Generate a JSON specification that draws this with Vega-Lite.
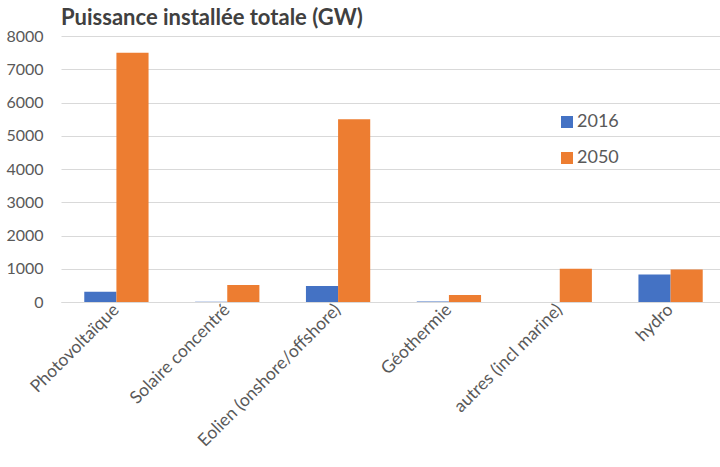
{
  "$schema": "https://vega.github.io/schema/vega-lite/v6.json",
  "autosize": {"type": "none"},
  "padding": {"left": 61, "top": 36, "right": 0, "bottom": 165},
  "width": 665,
  "height": 266,
  "background": "white",
  "title": {
    "text": "Puissance installée totale (GW)",
    "anchor": "start",
    "frame": "group",
    "font": "Lato",
    "fontSize": 22,
    "fontWeight": "bold",
    "color": "#404040",
    "offset": 3,
    "dy": 5
  },
  "data": {
    "values": [
      {"categorie": "Photovoltaïque", "annee": "2016", "valeur": 310},
      {"categorie": "Photovoltaïque", "annee": "2050", "valeur": 7500},
      {"categorie": "Solaire concentré", "annee": "2016", "valeur": 5},
      {"categorie": "Solaire concentré", "annee": "2050", "valeur": 510},
      {"categorie": "Eolien (onshore/offshore)", "annee": "2016", "valeur": 480},
      {"categorie": "Eolien (onshore/offshore)", "annee": "2050", "valeur": 5500},
      {"categorie": "Géothermie", "annee": "2016", "valeur": 13},
      {"categorie": "Géothermie", "annee": "2050", "valeur": 210},
      {"categorie": "autres (incl marine)", "annee": "2016", "valeur": 1},
      {"categorie": "autres (incl marine)", "annee": "2050", "valeur": 1000},
      {"categorie": "hydro", "annee": "2016", "valeur": 825},
      {"categorie": "hydro", "annee": "2050", "valeur": 975}
    ]
  },
  "mark": {"type": "bar"},
  "encoding": {
    "x": {
      "field": "categorie",
      "type": "nominal",
      "sort": null,
      "scale": {"paddingInner": 0.42, "paddingOuter": 0.21},
      "axis": {
        "title": null,
        "labelAngle": -45,
        "labelAlign": "right",
        "labelBaseline": "middle",
        "labelFont": "Lato",
        "labelFontSize": 17.5,
        "labelColor": "#595959",
        "labelPadding": 5,
        "labelLimit": 400,
        "ticks": false,
        "domainColor": "#d9d9d9",
        "domainWidth": 1,
        "grid": false
      }
    },
    "xOffset": {"field": "annee", "type": "nominal", "scale": {"paddingInner": 0, "paddingOuter": 0}},
    "y": {
      "field": "valeur",
      "type": "quantitative",
      "scale": {"domain": [0, 8000], "nice": false},
      "axis": {
        "title": null,
        "values": [0, 1000, 2000, 3000, 4000, 5000, 6000, 7000, 8000],
        "format": "d",
        "domain": false,
        "ticks": false,
        "labelFont": "Lato",
        "labelFontSize": 16,
        "labelColor": "#595959",
        "labelPadding": 18,
        "gridColor": "#d9d9d9",
        "gridWidth": 1
      }
    },
    "color": {
      "field": "annee",
      "type": "nominal",
      "scale": {"domain": ["2016", "2050"], "range": ["#4472C4", "#ED7D31"]},
      "legend": {
        "title": null,
        "orient": "none",
        "legendX": 497,
        "legendY": 77,
        "symbolType": "square",
        "symbolSize": 144,
        "symbolStrokeWidth": 0,
        "labelFont": "Lato",
        "labelFontSize": 18,
        "labelColor": "#595959",
        "labelOffset": 1,
        "rowPadding": 18
      }
    }
  },
  "config": {
    "view": {"stroke": null}
  }
}
